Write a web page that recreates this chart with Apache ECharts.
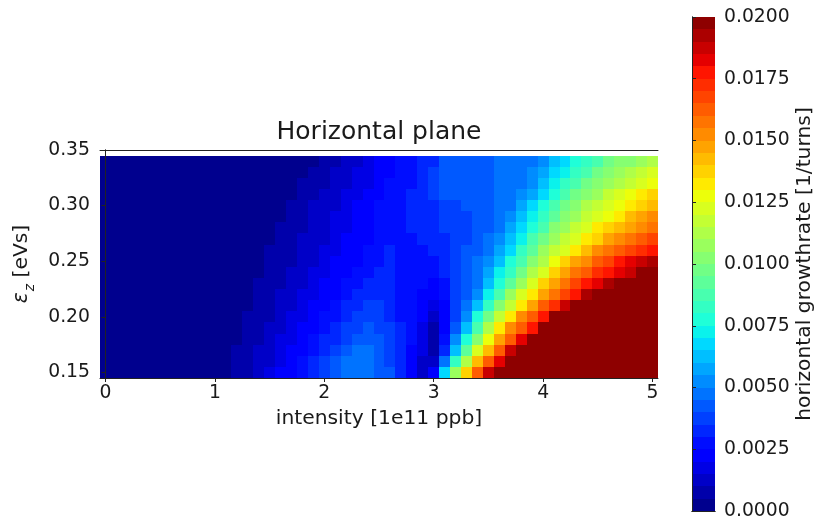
<!DOCTYPE html>
<html>
<head>
<meta charset="utf-8">
<script src="https://cdn.jsdelivr.net/npm/echarts@6/dist/echarts.min.js"></script>
<style>
  html, body { margin: 0; padding: 0; background: #ffffff; }
  #chart { width: 816px; height: 523px; }
</style>
</head>
<body>
<div id="chart"></div>
<script>
// Beam intensity grid, 1e11 ppb (cell centres)
const intensity = [
  0.0, 0.1, 0.2, 0.3, 0.4, 0.5, 0.6, 0.7, 0.8, 0.9,
  1.0, 1.1, 1.2, 1.3, 1.4, 1.5, 1.6, 1.7, 1.8, 1.9,
  2.0, 2.1, 2.2, 2.3, 2.4, 2.5, 2.6, 2.7, 2.8, 2.9,
  3.0, 3.1, 3.2, 3.3, 3.4, 3.5, 3.6, 3.7, 3.8, 3.9,
  4.0, 4.1, 4.2, 4.3, 4.4, 4.5, 4.6, 4.7, 4.8, 4.9, 5.0
];
// Longitudinal emittance grid, eVs (cell centres, bottom to top)
const emittance = [
  0.15, 0.16, 0.17, 0.18, 0.19, 0.20, 0.21, 0.22, 0.23, 0.24,
  0.25, 0.26, 0.27, 0.28, 0.29, 0.30, 0.31, 0.32, 0.33, 0.34
];
// Horizontal growth rate in units of 1e-4 per turn, one row per emittance
const GROWTH_UNIT = 1e-4;
const g015 = [1,1,1,1,1,1,2,2,2,3,3, 4,7,9,12,16,20,24,28,32,37, 42,46,48,47,44,40,34,22,12,20, 67,106,137,163,185,205,222,236,248,258, 266,273,279,284,288,292,295,298,300,302];
const g016 = [1,1,1,1,1,1,1,2,2,2,3, 4,6,8,11,14,18,22,26,30,35, 40,45,47,46,43,39,32,23,10,14, 48,82,114,140,163,183,205,219,232,243, 252,260,267,273,278,282,286,289,292,294];
const g017 = [1,1,1,1,1,1,1,2,2,2,3, 4,5,8,10,13,17,20,24,28,32, 37,42,45,45,42,38,31,24,15,8, 30,64,94,120,143,163,185,201,214,226, 236,245,253,260,266,271,275,279,282,285];
const g018 = [1,1,1,1,1,1,1,1,2,2,2, 3,4,7,9,12,15,18,22,26,30, 34,38,41,42,40,36,30,25,17,6, 25,50,78,102,128,146,164,180,201,210, 220,229,238,246,253,259,264,268,272,275];
const g019 = [1,1,1,1,1,1,1,1,2,2,2, 3,4,6,8,11,14,17,20,23,27, 31,35,38,40,39,35,30,26,19,8, 22,42,63,88,110,134,150,163,178,197, 207,216,225,233,240,246,252,257,261,265];
const g020 = [1,1,1,1,1,1,1,1,1,2,2, 3,4,5,7,9,13,15,18,22,25, 29,33,36,37,37,34,29,26,21,12, 22,38,51,76,96,119,133,150,164,178, 195,206,214,222,229,236,242,247,252,256];
const g021 = [1,1,1,1,1,1,1,1,1,2,2, 2,3,4,6,8,11,14,17,20,23, 26,30,33,35,35,33,29,26,22,16, 24,36,46,62,83,102,118,133,149,161, 174,188,202,212,220,228,235,241,246,250];
const g022 = [1,1,1,1,1,1,1,1,1,2,2, 2,3,4,5,7,10,13,15,18,21, 24,28,31,33,34,33,29,27,24,20, 27,35,44,53,71,88,105,120,134,148, 159,168,178,191,202,210,218,225,231,236];
const g023 = [1,1,1,1,1,1,1,1,1,1,2, 2,3,4,5,7,9,11,14,17,20, 23,26,29,31,33,32,29,27,25,24, 29,35,42,49,62,78,94,108,122,136, 147,158,167,175,183,192,201,207,213,218];
const g024 = [1,1,1,1,1,1,1,1,1,1,2, 2,3,3,4,6,8,10,13,15,18, 21,24,26,29,31,31,29,27,26,27, 31,36,41,47,56,70,84,99,112,124, 136,146,155,163,171,178,184,189,196,201];
const g025 = [1,1,1,1,1,1,1,1,1,1,2, 2,2,3,4,5,7,9,12,14,17, 20,22,24,27,29,31,29,28,28,29, 32,36,40,45,50,63,75,89,101,114, 125,135,145,153,161,168,175,180,185,190];
const g026 = [1,1,1,1,1,1,1,1,1,1,2, 2,2,3,4,5,6,8,11,13,15, 18,21,23,25,28,30,29,28,29,31, 33,36,40,43,47,56,68,81,94,105, 115,124,133,142,151,158,164,169,173,177];
const g027 = [1,1,1,1,1,1,1,1,1,1,1, 2,2,2,3,4,6,8,10,12,14, 17,20,22,24,27,29,29,29,30,32, 34,36,39,42,46,50,61,73,86,96, 106,115,124,132,139,147,153,158,163,167];
const g028 = [1,1,1,1,1,1,1,1,1,1,1, 2,2,2,3,4,5,7,9,11,13, 16,19,21,23,26,28,29,30,31,33, 35,36,38,41,44,48,55,66,78,89, 100,108,115,123,130,136,142,148,153,157];
const g029 = [1,1,1,1,1,1,1,1,1,1,1, 1,2,2,3,3,4,6,8,10,12, 15,18,21,23,25,27,29,30,31,34, 36,37,38,41,43,46,50,60,71,82, 92,101,108,115,122,128,134,140,145,150];
const g030 = [1,1,1,1,1,1,1,1,1,1,1, 1,2,2,2,3,4,5,7,10,12, 14,17,20,22,25,27,29,30,31,34, 37,38,40,42,43,45,48,55,65,75, 85,95,103,110,116,123,129,134,138,142];
const g031 = [1,1,1,1,1,1,1,1,1,1,1, 1,2,2,2,3,4,4,6,8,11, 13,15,18,21,24,26,28,30,31,36, 41,42,42,43,44,45,47,50,59,68, 78,87,96,103,109,115,120,125,130,135];
const g032 = [1,1,1,1,1,1,1,1,1,1,1, 1,1,2,2,3,3,4,5,7,9, 12,14,16,19,22,25,27,29,31,36, 41,42,42,43,44,45,46,48,54,62, 71,80,88,96,102,108,113,118,123,128];
const g033 = [1,1,1,1,1,1,1,1,1,1,1, 1,1,2,2,2,3,3,4,6,8, 10,13,15,18,21,23,26,28,30,35, 41,42,42,43,44,45,46,47,50,57, 65,73,81,88,95,101,106,111,116,120];
const g034 = [1,1,1,1,1,1,1,1,1,1,1, 1,1,1,2,2,3,3,4,4,6, 9,11,14,16,20,23,25,28,30,34, 41,42,42,43,44,45,46,48,49,53, 60,67,75,83,89,95,100,104,108,112];
const growthRows = [g015, g016, g017, g018, g019, g020, g021, g022, g023, g024,
                    g025, g026, g027, g028, g029, g030, g031, g032, g033, g034];

// Filled-contour levels (1/turns) and tick positions
const levels = [
  0.0000, 0.0005, 0.0010, 0.0015, 0.0020, 0.0025, 0.0030, 0.0035, 0.0040, 0.0045,
  0.0050, 0.0055, 0.0060, 0.0065, 0.0070, 0.0075, 0.0080, 0.0085, 0.0090, 0.0095,
  0.0100, 0.0105, 0.0110, 0.0115, 0.0120, 0.0125, 0.0130, 0.0135, 0.0140, 0.0145,
  0.0150, 0.0155, 0.0160, 0.0165, 0.0170, 0.0175, 0.0180, 0.0185, 0.0190, 0.0195, 0.0200
];
const xTicks = [0, 1, 2, 3, 4, 5];
const yTicks = [0.15, 0.20, 0.25, 0.30, 0.35];

// matplotlib "jet" colormap
function jet(t) {
  const seg = (pts) => {
    for (let i = 1; i < pts.length; i++) {
      if (t <= pts[i][0]) {
        const [x0, y0] = pts[i - 1], [x1, y1] = pts[i];
        return y0 + (y1 - y0) * (t - x0) / (x1 - x0);
      }
    }
    return pts[pts.length - 1][1];
  };
  const r = seg([[0, 0], [0.35, 0], [0.66, 1], [0.89, 1], [1, 0.5]]);
  const g = seg([[0, 0], [0.125, 0], [0.375, 1], [0.64, 1], [0.91, 0], [1, 0]]);
  const b = seg([[0, 0.5], [0.11, 1], [0.34, 1], [0.65, 0], [1, 0]]);
  return 'rgb(' + Math.round(r * 255) + ',' + Math.round(g * 255) + ',' + Math.round(b * 255) + ')';
}

const nBands = levels.length - 1;
const pieces = [];
for (let i = 0; i < nBands; i++) {
  const p = { gte: levels[i], color: jet((i + 0.5) / nBands) };
  if (i < nBands - 1) p.lt = levels[i + 1];
  pieces.push(p);
}

// Heat-map cells [intensity, emittance, growth]
const cells = [];
growthRows.forEach((row, r) => {
  row.forEach((v, c) => cells.push([intensity[c], emittance[r], v * GROWTH_UNIT]));
});
const dx = intensity[1] - intensity[0];
const dy = emittance[1] - emittance[0];

// Colour-bar strips [low, high, mid]
const bar = [];
for (let i = 0; i < nBands; i++) bar.push([levels[i], levels[i + 1], (levels[i] + levels[i + 1]) / 2]);

const FONT = 'DejaVu Sans';
const INK = '#1a1a1a';
const frameLine = { show: true, lineStyle: { color: '#222', width: 1 } };
const bare = { axisTick: { show: false }, axisLabel: { show: false }, splitLine: { show: false } };

// Pixel-snapped rectangle so neighbouring cells meet without seams
function snapRect(p0, p1) {
  const x0 = Math.round(Math.min(p0[0], p1[0])), x1 = Math.round(Math.max(p0[0], p1[0]));
  const y0 = Math.round(Math.min(p0[1], p1[1])), y1 = Math.round(Math.max(p0[1], p1[1]));
  return { x: x0, y: y0, width: x1 - x0, height: y1 - y0 };
}

function renderCell(params, api) {
  const x = api.value(0), y = api.value(1);
  const cs = params.coordSys;
  const rect = echarts.graphic.clipRectByRect(
    snapRect(api.coord([x - dx / 2, y + dy / 2]), api.coord([x + dx / 2, y - dy / 2])),
    { x: Math.round(cs.x), y: Math.round(cs.y), width: Math.round(cs.width), height: Math.round(cs.height) }
  );
  if (!rect) return null;
  return { type: 'rect', shape: rect, style: { fill: api.visual('color') } };
}

function renderStrip(params, api) {
  return {
    type: 'rect',
    shape: snapRect(api.coord([0, api.value(1)]), api.coord([1, api.value(0)])),
    style: { fill: api.visual('color') }
  };
}

const chart = echarts.init(document.getElementById('chart'), null, { renderer: 'canvas' });
chart.setOption({
  animation: false,
  backgroundColor: '#ffffff',
  textStyle: { fontFamily: FONT, color: INK },
  grid: [
    { left: 100, top: 150, width: 558, height: 228 },
    { left: 692, top: 17, width: 25, height: 494 }
  ],
  visualMap: {
    type: 'piecewise', show: false, dimension: 2, seriesIndex: [0, 1], pieces: pieces
  },
  xAxis: [
    {
      type: 'value', gridIndex: 0, position: 'bottom', min: -0.05, max: 5.05, z: 10,
      name: 'intensity [1e11 ppb]', nameLocation: 'middle', nameGap: 31,
      nameTextStyle: { fontFamily: FONT, fontSize: 20.3, color: INK },
      axisLine: frameLine,
      axisTick: { show: true, customValues: xTicks, length: 4, lineStyle: { color: '#222', width: 1 } },
      axisLabel: { customValues: xTicks, margin: 6, fontFamily: FONT, fontSize: 18.8, color: INK,
                   formatter: (v) => String(v) },
      splitLine: { show: false }
    },
    Object.assign({
      type: 'value', gridIndex: 0, position: 'top', min: -0.05, max: 5.05, z: 10,
      name: 'Horizontal plane', nameLocation: 'middle', nameGap: 5,
      nameTextStyle: { fontFamily: FONT, fontSize: 25, color: INK },
      axisLine: frameLine
    }, bare),
    Object.assign({
      type: 'value', gridIndex: 1, position: 'bottom', min: 0, max: 1, z: 10, axisLine: frameLine
    }, bare),
    Object.assign({
      type: 'value', gridIndex: 1, position: 'top', min: 0, max: 1, z: 10, axisLine: frameLine
    }, bare)
  ],
  yAxis: [
    {
      type: 'value', gridIndex: 0, position: 'left', min: 0.145, max: 0.35, z: 10,
      name: '{e|ε}{s|z}{t| [eVs]}', nameLocation: 'middle', nameGap: 57, nameRotate: 90,
      nameTextStyle: {
        fontFamily: FONT, fontSize: 20, color: INK,
        rich: {
          e: { fontFamily: FONT, fontSize: 20.3, fontStyle: 'italic', color: INK, lineHeight: 24, verticalAlign: 'top' },
          s: { fontFamily: FONT, fontSize: 14, fontStyle: 'italic', color: INK, lineHeight: 14, verticalAlign: 'top', padding: [12, 0, 0, 1] },
          t: { fontFamily: FONT, fontSize: 20.3, color: INK, lineHeight: 24, verticalAlign: 'top' }
        }
      },
      axisLine: frameLine,
      axisTick: { show: true, customValues: yTicks, length: 4, lineStyle: { color: '#222', width: 1 } },
      axisLabel: { customValues: yTicks, margin: 10, fontFamily: FONT, fontSize: 18.8, color: INK,
                   formatter: (v) => v.toFixed(2) },
      splitLine: { show: false }
    },
    Object.assign({
      type: 'value', gridIndex: 0, position: 'right', min: 0.145, max: 0.35, z: 10, axisLine: frameLine
    }, bare),
    {
      type: 'value', gridIndex: 1, position: 'right', min: 0, max: 0.02, interval: 0.0025, z: 10,
      name: 'horizontal growthrate [1/turns]', nameLocation: 'middle', nameGap: 80, nameRotate: 90,
      nameTextStyle: { fontFamily: FONT, fontSize: 20.3, color: INK },
      axisLine: frameLine,
      axisTick: { show: true, length: 4, lineStyle: { color: '#222', width: 1 } },
      axisLabel: { margin: 9, fontFamily: FONT, fontSize: 18.8, color: INK,
                   formatter: (v) => v.toFixed(4) },
      splitLine: { show: false }
    },
    Object.assign({
      type: 'value', gridIndex: 1, position: 'left', min: 0, max: 0.02, z: 10, axisLine: frameLine
    }, bare)
  ],
  series: [
    {
      type: 'custom', name: 'growthrate', xAxisIndex: 0, yAxisIndex: 0, z: 2,
      renderItem: renderCell, data: cells, encode: { x: 0, y: 1 }, silent: true
    },
    {
      type: 'custom', name: 'colorbar', xAxisIndex: 2, yAxisIndex: 2, z: 2,
      renderItem: renderStrip, data: bar, encode: { y: [0, 1] }, silent: true
    }
  ]
});
</script>
</body>
</html>
